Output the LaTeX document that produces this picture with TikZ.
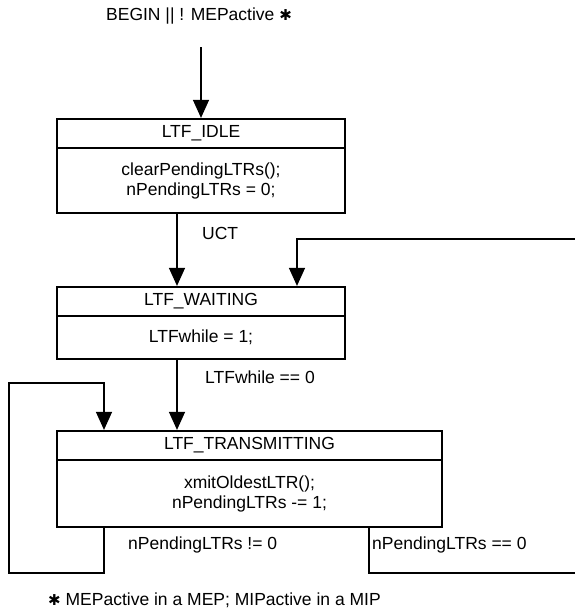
\documentclass[tikz,border=0pt]{standalone}
\usepackage{fontspec}
\setmainfont{Liberation Sans}
\newfontfamily\symfnt{DejaVu Sans}
\usetikzlibrary{arrows.meta}
\newcommand\dfont{\fontsize{17.5}{20}\selectfont}
\newcommand\starmark{{\symfnt\fontsize{15}{15}\selectfont ✱}}
\begin{document}
\begin{tikzpicture}[x=1pt,y=-1pt,
  box/.style={draw, line width=2.2pt, inner sep=0pt, align=center, font=\dfont},
  arr/.style={line width=1.3pt, -{Triangle[length=18pt,width=16pt]}},
  wire/.style={line width=1.3pt},
  lbl/.style={font=\dfont, inner sep=0pt, anchor=west}]
\useasboundingbox (0,0) rectangle (575,613);
% title
\node[font=\dfont, inner sep=0pt] (start) at (199,16) {BEGIN || ! MEPactive \starmark};
\coordinate (c0) at (201,47);
% LTF_IDLE
\node[box, minimum width=288pt, minimum height=29pt] (idleH) at (201,133.5) {LTF\_IDLE};
\node[box, minimum width=288pt, minimum height=65pt] (idleB) at (201,180.5) {clearPendingLTRs();\\nPendingLTRs = 0;};
% LTF_WAITING
\node[box, minimum width=288pt, minimum height=29pt] (waitH) at (201,301.5) {LTF\_WAITING};
\node[box, minimum width=288pt, minimum height=43pt] (waitB) at (201,337.5) {LTFwhile = 1;};
% LTF_TRANSMITTING
\node[box, minimum width=385pt, minimum height=29pt] (transH) at (249.5,445.5) {LTF\_TRANSMITTING};
\node[box, minimum width=385pt, minimum height=67pt] (transB) at (249.5,493.5) {xmitOldestLTR();\\nPendingLTRs -= 1;};
% free ends
\coordinate (xa) at (177,0);
\coordinate (xf) at (297,0);
\coordinate (xl) at (104,0);
\coordinate (xr) at (369,0);
\coordinate (fbIn) at (575,239);
\coordinate (loopBL) at (9,573);
\coordinate (loopTL) at (9,383);
\coordinate (exitOut) at (575,573);
% connectors
\draw[arr] (c0) -- (idleH.north);
\draw[arr] (idleB.south -| xa) -- (waitH.north -| xa);
\draw[arr] (fbIn) -| (waitH.north -| xf);
\draw[arr] (waitB.south -| xa) -- (transH.north -| xa);
\draw[arr] (transB.south -| xl) |- (loopBL) -- (loopTL) -| (transH.north -| xl);
\draw[wire] (transB.south -| xr) |- (exitOut);
% labels
\node[lbl] (uct) at (202,233) {UCT};
\node[lbl] (lw0) at (205,377) {LTFwhile == 0};
\node[lbl] (pne) at (128,545) {nPendingLTRs != 0};
\node[lbl] (peq) at (372,545) {nPendingLTRs == 0};
\node[lbl] (foot) at (48,600) {\starmark\ MEPactive in a MEP; MIPactive in a MIP};
\end{tikzpicture}
\end{document}
